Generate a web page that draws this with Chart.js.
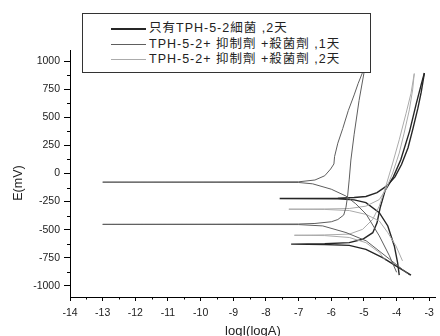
<!DOCTYPE html>
<html>
<head>
<meta charset="utf-8">
<script src="https://cdn.jsdelivr.net/npm/chart.js@4.4.0/dist/chart.umd.min.js"></script>
<style>
  html, body { margin: 0; padding: 0; background: #fff; }
  #wrap { position: relative; width: 440px; height: 336px; }
  #legend {
    position: absolute; left: 82px; top: 13px; width: 287px; height: 58px;
    border: 1px solid #333; background: #fff;
    font-family: "Liberation Sans", "Noto Sans CJK TC", sans-serif;
    font-size: 12.5px; color: #222;
  }
  .row { position: absolute; left: 0; height: 16px; width: 100%; }
  .row .swatch { position: absolute; left: 28px; width: 35px; top: 8px; }
  .row .txt { position: absolute; left: 66px; white-space: nowrap; line-height: 16px; letter-spacing: 1px; }
  #ytitle {
    position: absolute; left: 18px; top: 183px; width: 60px; height: 16px;
    margin-left: -30px; margin-top: -8px; line-height: 16px; text-align: center;
    transform: rotate(-90deg);
    font-family: "Liberation Sans", Arial, sans-serif; font-size: 12.5px; color: #222;
  }
</style>
</head>
<body>
<div id="wrap">
  <canvas id="tafel" width="440" height="336"></canvas>
  <div id="legend"></div>
  <div id="ytitle">E(mV)</div>
</div>
<script>
// series (legend) names and styles
const seriesNames = [
  '只有TPH-5-2細菌 ,2天',
  'TPH-5-2+ 抑制劑 +殺菌劑 ,1天',
  'TPH-5-2+ 抑制劑 +殺菌劑 ,2天'
];
const seriesColors = ['#262626', '#5e5e5e', '#ababab'];
const seriesWidths = [1.4, 1, 1];

// axis ticks
const xTicks = [-14, -13, -12, -11, -10, -9, -8, -7, -6, -5, -4, -3];
const xMinorTicks = [-13.5, -12.5, -11.5, -10.5, -9.5, -8.5, -7.5, -6.5, -5.5, -4.5, -3.5];
const yTicks = [-1000, -750, -500, -250, 0, 250, 500, 750, 1000];
const yMinorTicks = [-875, -625, -375, -125, 125, 375, 625, 875];

// curves: logI and E(mV), scan order
// series 1 (dark), Ecorr about -223 mV
const bact2a_logI = [-3.92, -3.97, -4.07, -4.27, -4.53, -4.94, -5.3, -5.8, -7.58, -5.8, -5.3, -4.94, -4.6, -4.3, -4.05, -3.85, -3.65, -3.5, -3.35, -3.25, -3.15];
const bact2a_E    = [-905, -793, -645, -467, -349, -260, -235, -226, -223, -220, -214, -205, -170, -110, -30, 80, 230, 400, 580, 720, 895];
// series 1 (dark), Ecorr about -628 mV
const bact2b_logI = [-3.56, -4.02, -4.43, -4.94, -5.45, -6.2, -7.23, -6.2, -5.45, -5.04, -4.73, -4.6, -4.5, -4.35, -4.1, -3.87, -3.6, -3.4, -3.25, -3.15];
const bact2b_E    = [-905, -823, -750, -676, -640, -632, -629, -626, -616, -586, -527, -440, -300, -150, -30, 124, 380, 620, 790, 895];
// series 2 (medium), Ecorr about -76 mV
const inh1a_logI = [-4.0, -4.22, -4.53, -4.93, -5.25, -5.55, -6.0, -6.57, -7.0, -13, -7.0, -6.5, -6.2, -6.02, -5.92, -5.9, -5.8, -5.65, -5.48, -5.3, -5.18, -5.05];
const inh1a_E    = [-880, -733, -556, -363, -270, -201, -140, -92, -80, -77, -74, -58, -20, 40, 85, 150, 270, 400, 560, 700, 800, 895];
// series 2 (medium), Ecorr about -452 mV
const inh1b_logI = [-3.61, -4.22, -4.93, -5.55, -6.26, -7.0, -13, -7.0, -6.5, -6.0, -5.8, -5.62, -5.55, -5.5, -5.45, -5.4, -5.3, -5.15, -5.0];
const inh1b_E    = [-904, -762, -600, -526, -467, -455, -453, -450, -445, -430, -410, -370, -300, -200, -50, 120, 350, 650, 895];
// series 3 (light), Ecorr about -318 mV
const inh2a_logI = [-3.82, -4.02, -4.27, -4.53, -4.94, -5.45, -6.2, -7.3, -6.2, -5.45, -4.94, -4.53, -4.33, -4.12, -3.92, -3.77, -3.61, -3.51, -3.46];
const inh2a_E    = [-778, -645, -527, -423, -364, -330, -320, -318, -316, -312, -291, -232, -143, 5, 182, 360, 567, 744, 890];
// series 3 (light), Ecorr about -549 mV
const inh2b_logI = [-4.33, -4.53, -4.94, -5.45, -6.2, -7.13, -6.2, -5.45, -5.04, -4.73, -4.53, -4.33, -4.12, -3.92, -3.71, -3.56, -3.46];
const inh2b_E    = [-778, -704, -616, -570, -553, -550, -547, -540, -497, -408, -290, -113, 93, 300, 537, 714, 890];

const curves = [
  { s: 1, x: inh1a_logI, y: inh1a_E },
  { s: 1, x: inh1b_logI, y: inh1b_E },
  { s: 2, x: inh2a_logI, y: inh2a_E },
  { s: 2, x: inh2b_logI, y: inh2b_E },
  { s: 0, x: bact2a_logI, y: bact2a_E },
  { s: 0, x: bact2b_logI, y: bact2b_E }
];

const fontFamily = '"Liberation Sans", Arial, sans-serif';

const datasets = curves.map(c => ({
  label: seriesNames[c.s],
  data: c.x.map((v, i) => ({ x: v, y: c.y[i] })),
  showLine: true,
  borderColor: seriesColors[c.s],
  borderWidth: seriesWidths[c.s],
  pointRadius: 0,
  tension: 0,
  fill: false
}));

// short minor ticks on both axes
const minorTicks = {
  id: 'minorTicks',
  afterDraw(chart) {
    const { ctx, scales: { x, y }, chartArea } = chart;
    ctx.save();
    ctx.strokeStyle = '#000';
    ctx.lineWidth = 1;
    ctx.beginPath();
    xMinorTicks.forEach(v => {
      const px = Math.round(x.getPixelForValue(v)) + 0.5;
      ctx.moveTo(px, chartArea.bottom);
      ctx.lineTo(px, chartArea.bottom + 2.5);
    });
    yMinorTicks.forEach(v => {
      const py = Math.round(y.getPixelForValue(v)) + 0.5;
      ctx.moveTo(chartArea.left, py);
      ctx.lineTo(chartArea.left - 3, py);
    });
    ctx.stroke();
    ctx.restore();
  }
};

new Chart(document.getElementById('tafel'), {
  type: 'scatter',
  data: { datasets },
  options: {
    responsive: false,
    animation: false,
    layout: { padding: { top: 50, right: 3, left: 0, bottom: 0 } },
    plugins: { legend: { display: false }, tooltip: { enabled: false } },
    scales: {
      x: {
        type: 'linear',
        min: -14,
        max: -2.8,
        afterBuildTicks: s => { s.ticks = xTicks.map(v => ({ value: v })); },
        afterFit: s => { s.height = 39; },
        grid: { drawOnChartArea: false, drawTicks: true, tickLength: 4, color: '#000' },
        border: { display: true, color: '#000', width: 1 },
        ticks: { padding: 6, color: '#222', autoSkip: false, maxRotation: 0, font: { family: fontFamily, size: 10.5 } },
        title: {
          display: true, text: 'logI(logA)', color: '#222',
          font: { family: fontFamily, size: 13 },
          padding: { top: 0, bottom: -3 }
        }
      },
      y: {
        type: 'linear',
        min: -1100,
        max: 1100,
        afterBuildTicks: s => { s.ticks = yTicks.map(v => ({ value: v })); },
        afterFit: s => { s.width = 70; },
        grid: { drawOnChartArea: false, drawTicks: true, tickLength: 6, color: '#000' },
        border: { display: true, color: '#000', width: 1 },
        ticks: { padding: 4, color: '#222', font: { family: fontFamily, size: 10.5 }, callback: v => String(v) }
      }
    }
  },
  plugins: [minorTicks]
});

// legend box built from the series names
const legend = document.getElementById('legend');
const rowTops = [6, 22, 37];
seriesNames.forEach((name, i) => {
  const row = document.createElement('div');
  row.className = 'row';
  row.style.top = rowTops[i] + 'px';
  const sw = document.createElement('div');
  sw.className = 'swatch';
  sw.style.borderTop = (i === 0 ? 2 : 1) + 'px solid ' + seriesColors[i];
  const txt = document.createElement('div');
  txt.className = 'txt';
  txt.textContent = name;
  row.appendChild(sw);
  row.appendChild(txt);
  legend.appendChild(row);
});
</script>
</body>
</html>
